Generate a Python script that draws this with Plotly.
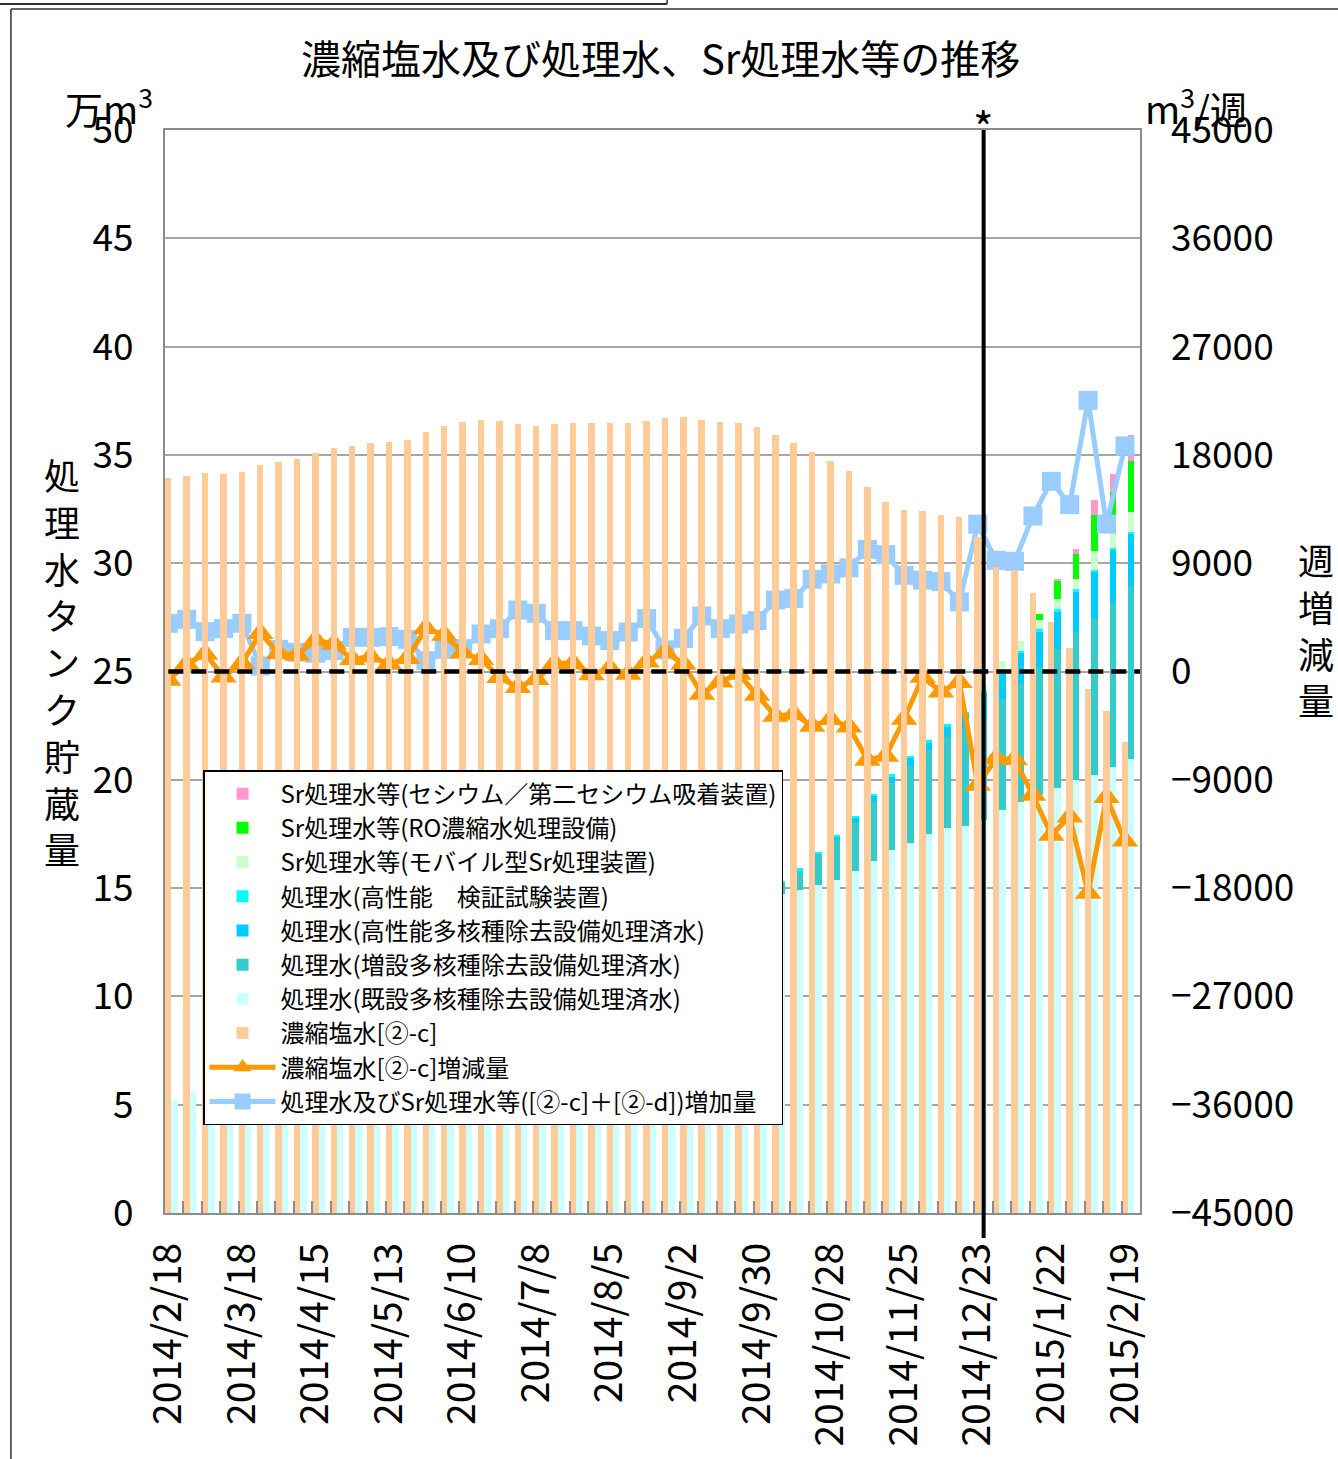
import plotly.graph_objects as go

FONT = "Noto Sans CJK JP"

dates = [
    "2014/2/18", "2014/2/25", "2014/3/4", "2014/3/11", "2014/3/18", "2014/3/25",
    "2014/4/1", "2014/4/8", "2014/4/15", "2014/4/22", "2014/4/29", "2014/5/6",
    "2014/5/13", "2014/5/20", "2014/5/27", "2014/6/3", "2014/6/10", "2014/6/17",
    "2014/6/24", "2014/7/1", "2014/7/8", "2014/7/15", "2014/7/22", "2014/7/29",
    "2014/8/5", "2014/8/12", "2014/8/19", "2014/8/26", "2014/9/2", "2014/9/9",
    "2014/9/16", "2014/9/23", "2014/9/30", "2014/10/7", "2014/10/14", "2014/10/21",
    "2014/10/28", "2014/11/4", "2014/11/11", "2014/11/18", "2014/11/25", "2014/12/2",
    "2014/12/9", "2014/12/16", "2014/12/23", "2014/12/25", "2015/1/8", "2015/1/15",
    "2015/1/22", "2015/1/29", "2015/2/5", "2015/2/12", "2015/2/19",
]
tick_labels = [
    "2014/2/18", "2014/3/18", "2014/4/15", "2014/5/13", "2014/6/10", "2014/7/8",
    "2014/8/5", "2014/9/2", "2014/9/30", "2014/10/28", "2014/11/25", "2014/12/23",
    "2015/1/22", "2015/2/19",
]

# 万m3 (left axis)
concentrated = [
    33.95, 34.03, 34.18, 34.12, 34.23, 34.53, 34.69, 34.81, 35.10, 35.33,
    35.43, 35.56, 35.61, 35.70, 36.07, 36.35, 36.53, 36.61, 36.58, 36.44,
    36.35, 36.44, 36.49, 36.49, 36.49, 36.49, 36.58, 36.72, 36.76, 36.61,
    36.53, 36.49, 36.30, 35.93, 35.56, 35.15, 34.73, 34.27, 33.53, 32.84,
    32.47, 32.42, 32.23, 32.14, 31.21, 29.84, 29.69, 28.64, 27.30, 26.07,
    24.19, 23.19, 21.76,
]
kisetsu = [
    5.20, 5.63, 5.96, 6.32, 6.72, 6.77, 6.95, 7.11, 7.26, 7.40,
    7.66, 7.90, 8.19, 8.46, 8.55, 8.73, 8.92, 9.23, 9.59, 10.10,
    10.58, 10.92, 11.26, 11.55, 11.80, 12.13, 12.57, 12.75, 13.02, 13.48,
    13.83, 14.22, 14.44, 14.72, 14.91, 15.13, 15.37, 15.79, 16.25, 16.76,
    17.08, 17.50, 17.79, 17.87, 18.14, 18.61, 18.99, 19.30, 19.61, 19.99,
    20.22, 20.61, 20.95,
]
zousetsu = [
    0, 0, 0, 0, 0, 0, 0, 0, 0, 0,
    0, 0, 0, 0, 0, 0, 0, 0, 0, 0,
    0, 0, 0, 0, 0, 0, 0, 0, 0, 0,
    0, 0, 0.20, 0.50, 0.90, 1.40, 1.90, 2.23, 2.74, 3.08,
    3.56, 3.88, 4.17, 4.48, 4.77, 5.12, 5.49, 5.92, 6.41, 6.85,
    7.26, 7.61, 8.00,
]
koseino = [
    0, 0, 0, 0, 0, 0, 0, 0, 0, 0,
    0, 0, 0, 0, 0, 0, 0, 0, 0, 0,
    0, 0, 0, 0, 0, 0, 0, 0, 0, 0,
    0, 0, 0, 0, 0, 0.03, 0.08, 0.21, 0.24, 0.31,
    0.36, 0.34, 0.50, 0.69, 1.08, 1.16, 1.37, 1.62, 1.75, 1.85,
    2.11, 2.37, 2.40,
]
kensho = [
    0, 0, 0, 0, 0, 0, 0, 0, 0, 0.03,
    0.06, 0.10, 0.10, 0.10, 0.10, 0.10, 0.10, 0.10, 0.10, 0.10,
    0.10, 0.10, 0.10, 0.10, 0.10, 0.10, 0.10, 0.10, 0.10, 0.10,
    0.10, 0.10, 0.10, 0.10, 0.10, 0.10, 0.10, 0.10, 0.10, 0.10,
    0.10, 0.10, 0.10, 0.10, 0.10, 0.10, 0.10, 0.10, 0.10, 0.10,
    0.10, 0.10, 0.10,
]
mobile = [0] * 44 + [0.28, 0.49, 0.45, 0.44, 0.46, 0.48, 0.87, 0.69, 0.90]
ro = [0] * 47 + [0.27, 0.85, 1.15, 1.66, 1.92, 2.37]
cesium = [0] * 48 + [0.08, 0.22, 0.70, 0.80, 1.20]

# m3/週 (right axis)
conc_change = [
    -700, 623, 1454, -430, 678, 3172, 1510, 1371, 2618, 2285,
    1011, 1232, 623, 1094, 3588, 3033, 1565, 1011, -485, -1316,
    -651, 678, 678, -250, 263, -207, 817, 1649, 623, -1870,
    -845, -207, -1953, -3698, -3532, -4529, -3975, -4584, -7355, -7022,
    -3950, -460, -1676, -885, -9432, -7216, -7299, -10263, -13587, -12064,
    -18407, -10457, -14057,
]
treated_increase = [
    4005, 4338, 3309, 3558, 4005, 457, 1843, 1594, 1510, 1731,
    2840, 2840, 2895, 2673, 900, 1843, 1898, 3116, 3558, 5111,
    4835, 3393, 3393, 2950, 2562, 3282, 4392, 1800, 2756, 4614,
    3558, 3947, 4226, 5942, 6053, 7659, 8102, 8601, 10153, 9709,
    7990, 7590, 7465, 5788, 12240, 9240, 9157, 12922, 15805, 13864,
    22535, 12257, 18739,
]

stack_series = [
    ("処理水(既設多核種除去設備処理済水)", kisetsu, "#CCFFFF", 7),
    ("処理水(増設多核種除去設備処理済水)", zousetsu, "#33CCCC", 6),
    ("処理水(高性能多核種除去設備処理済水)", koseino, "#00CCFF", 5),
    ("処理水(高性能　検証試験装置)", kensho, "#00FFFF", 4),
    ("Sr処理水等(モバイル型Sr処理装置)", mobile, "#CCFFCC", 3),
    ("Sr処理水等(RO濃縮水処理設備)", ro, "#00FF00", 2),
    ("Sr処理水等(セシウム／第二セシウム吸着装置)", cesium, "#FF99CC", 1),
]

fig = go.Figure()

fig.add_trace(go.Bar(
    x=dates, y=concentrated, name="濃縮塩水[②-c]", xaxis="x3", yaxis="y",
    marker=dict(color="#FFCC99", line=dict(width=0)),
    offset=-0.5, width=0.35, legendrank=8,
))
for name, vals, color, rank in stack_series:
    fig.add_trace(go.Bar(
        x=dates, y=vals, name=name, xaxis="x", yaxis="y",
        marker=dict(color=color, line=dict(width=0)),
        offset=-0.15, width=0.35, legendrank=rank,
    ))

fig.add_trace(go.Scatter(
    x=dates, y=treated_increase, name="処理水及びSr処理水等([②-c]＋[②-d])増加量",
    xaxis="x2", yaxis="y2", mode="lines+markers",
    line=dict(color="#99CCFF", width=5),
    marker=dict(symbol="square", size=19, color="#99CCFF"),
    legendrank=10,
))
fig.add_trace(go.Scatter(
    x=dates, y=conc_change, name="濃縮塩水[②-c]増減量",
    xaxis="x2", yaxis="y2", mode="lines+markers",
    line=dict(color="#FF9900", width=5),
    marker=dict(symbol="triangle-up", size=23, color="#FF9900"),
    legendrank=9,
))

axis_gray = "#8c8c8c"
fig.update_layout(
    width=1338, height=1459,
    margin=dict(l=165, r=198, t=130, b=246, autoexpand=False),
    paper_bgcolor="white", plot_bgcolor="white",
    font=dict(family=FONT, color="black"),
    barmode="stack",
    showlegend=True,
    legend=dict(
        x=0.039, y=0.409, xanchor="left", yanchor="top", traceorder="normal",
        bgcolor="white", bordercolor="black", borderwidth=1.5,
        font=dict(size=24, family=FONT), tracegroupgap=0, itemwidth=66,
        entrywidth=540, entrywidthmode="pixels",
    ),
    xaxis=dict(
        type="category", categoryorder="array", categoryarray=dates,
        range=[-0.5, 52.5], showgrid=False, zeroline=False, automargin=False,
        showline=True, linecolor=axis_gray, linewidth=2, mirror=True,
        ticks="inside", tickson="boundaries", ticklen=12, tickcolor=axis_gray,
        tickwidth=1.5, showticklabels=False,
    ),
    xaxis3=dict(
        type="category", categoryorder="array", categoryarray=dates,
        range=[-0.5, 52.5], overlaying="x", anchor="y", visible=False,
        automargin=False,
    ),
    xaxis2=dict(
        type="category", categoryorder="array", categoryarray=dates,
        range=[-0.18, 52.82], overlaying="x", anchor="y", side="bottom",
        showgrid=False, zeroline=False, showline=False, ticks="", automargin=False,
        tickmode="array", tickvals=tick_labels, ticktext=tick_labels,
        tickangle=-90, tickfont=dict(size=39, family=FONT),
        ticklabelstandoff=21,
    ),
    yaxis=dict(
        range=[0, 50], dtick=5, tick0=0, automargin=False,
        showgrid=True, gridcolor="#a6a6a6", gridwidth=1.5, zeroline=False,
        showline=True, linecolor=axis_gray, linewidth=2, mirror=True,
        ticks="", tickfont=dict(size=37, family=FONT), ticklabelstandoff=22,
    ),
    yaxis2=dict(
        range=[-45000, 45000], dtick=9000, tick0=-45000, automargin=False,
        overlaying="y", side="right", showgrid=False, zeroline=False,
        showline=False, ticks="", tickformat="d",
        tickfont=dict(size=37, family=FONT), ticklabelstandoff=30,
    ),
)

# zero line of weekly change (dashed)
fig.add_shape(type="line", xref="x2", yref="y2", x0=0, x1=52.82, y0=0, y1=0,
              line=dict(color="black", width=4.5, dash="15px,8px"), layer="above")
# vertical marker line at 2014/12/23
fig.add_shape(type="line", xref="x", yref="paper", x0=44, x1=44, y0=-0.023, y1=1.0,
              line=dict(color="black", width=4), layer="above")
# outer frame fragments
fig.add_shape(type="line", xref="paper", yref="paper", x0=-0.158, x1=-0.158,
              y0=1.1117, y1=-0.23, line=dict(color="#333333", width=1.5))
fig.add_shape(type="line", xref="paper", yref="paper", x0=-0.158, x1=1.21,
              y0=1.1117, y1=1.1117, line=dict(color="#333333", width=1.5))
fig.add_shape(type="line", xref="paper", yref="paper", x0=-0.17, x1=0.515,
              y0=1.1163, y1=1.1163, line=dict(color="#333333", width=2))
fig.add_shape(type="line", xref="paper", yref="paper", x0=0.515, x1=0.515,
              y0=1.1163, y1=1.125, line=dict(color="#333333", width=1.5))

annots = [
    dict(text="濃縮塩水及び処理水、Sr処理水等の推移", x=0.5077, y=1.0674,
         xref="paper", yref="paper", xanchor="center", yanchor="middle",
         showarrow=False, font=dict(size=40)),
    dict(text="万m<sup>3</sup>", x=-0.105, y=1.022, xref="paper", yref="paper",
         xanchor="left", yanchor="middle", showarrow=False, font=dict(size=38)),
    dict(text="m<sup>3</sup>/週", x=1.003, y=1.022, xref="paper", yref="paper",
         xanchor="left", yanchor="middle", showarrow=False, font=dict(size=38)),
    dict(text="*", x=44, y=1.004, xref="x", yref="paper", xanchor="center",
         yanchor="middle", showarrow=False, font=dict(size=44)),
    dict(text="<br>".join("処理水タンク貯蔵量"), x=-0.106, y=0.51, xref="paper",
         yref="paper", xanchor="center", yanchor="middle", showarrow=False,
         font=dict(size=36)),
    dict(text="<br>".join("週増減量"), x=1.18, y=0.539, xref="paper",
         yref="paper", xanchor="center", yanchor="middle", showarrow=False,
         font=dict(size=36)),
]
for a in annots:
    fig.add_annotation(**a)

fig.write_html("out.html", config={"displayModeBar": False},
               post_script="document.body.style.margin='0';")
